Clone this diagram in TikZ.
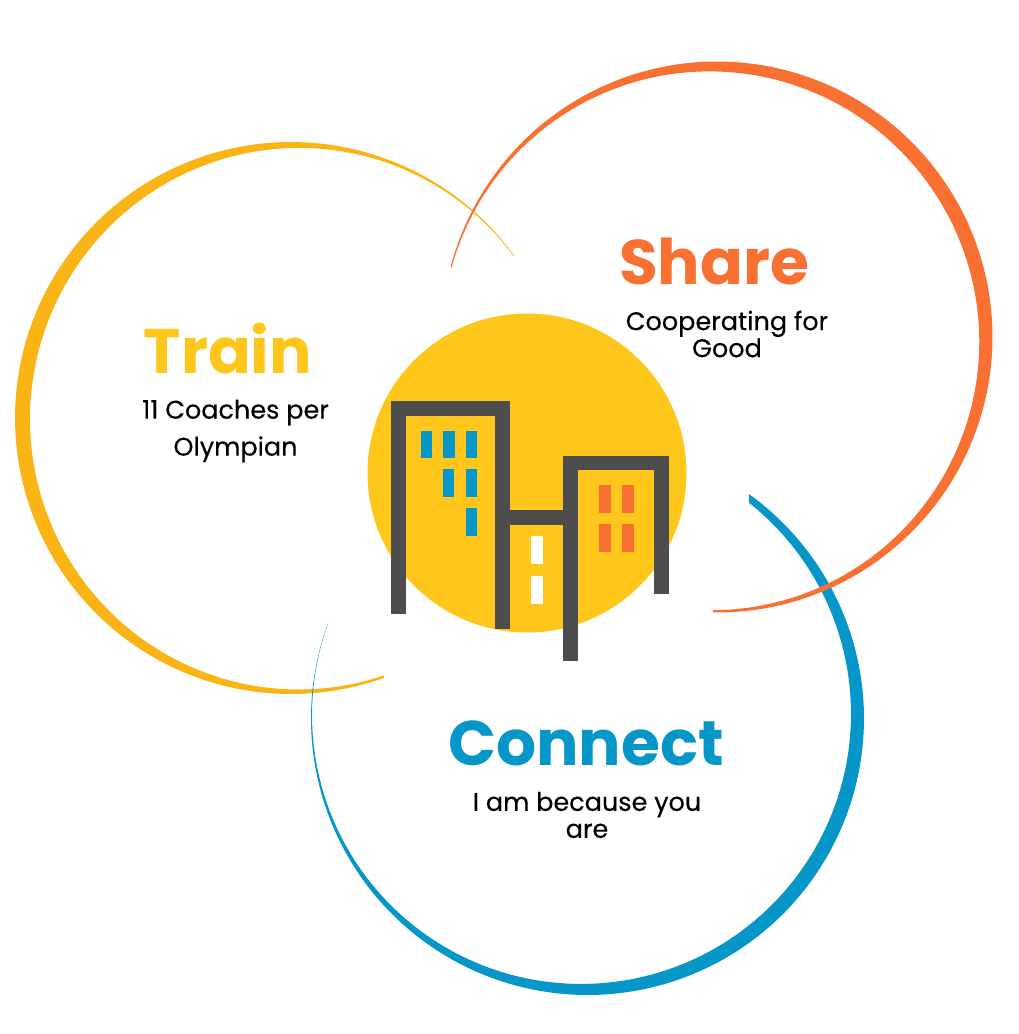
\documentclass[tikz,border=0pt]{standalone}
\usepackage{xcolor}
\usepackage{fontspec}
\setmainfont{Poppins}
\newfontfamily\subfont{Poppins}[FakeBold=0.25]
\usepackage{tikz}

\definecolor{sunyellow}{HTML}{FFC61B}
\definecolor{trainarc}{HTML}{FBB416}
\definecolor{sharered}{HTML}{F97033}
\definecolor{connectblue}{HTML}{0696C8}
\definecolor{towergray}{HTML}{4D4D4D}

% colour, cx, cy, radius, from, to, max width, angle of max width, exponent
\newcommand{\taperarc}[9]{%
  \fill[#1] plot[domain=#5:#6,samples=200] ({#2+#4*cos(\x)},{#3-#4*sin(\x)})
    -- plot[domain=#6:#5,samples=200] ({#2+(#4-#7*pow((1+cos(\x-(#8)))/2,#9))*cos(\x)},{#3-(#4-#7*pow((1+cos(\x-(#8)))/2,#9))*sin(\x)})
    -- cycle;}

\tikzset{
  headline/.style={anchor=base,font=\fontsize{#1}{#1}\selectfont\bfseries},
  subline/.style={align=center,text=black,inner sep=0pt,font=\subfont\fontsize{25.5}{#1}\selectfont},
  tower/.style={draw=towergray,line width=14.7pt,line cap=butt,line join=miter}
}

\begin{document}
\begin{tikzpicture}[x=1pt,y=-1pt]
      \useasboundingbox (0,0) rectangle (1018,1034);

      \taperarc{trainarc}{291}{418}{276}{36}{289.8}{15}{175}{1.5}
      \begin{scope}
        \clip (749,0)--(1018,0)--(1018,1034)--(0,1034)--(0,530)--(749,530)--cycle;
        \taperarc{connectblue}{587.5}{718.5}{276.5}{56}{-200.3}{14.5}{-35}{1.1}
      \end{scope}
      \taperarc{sharered}{717}{337}{275.5}{165.3}{-90.8}{14.5}{30}{1.3}

      \fill[sunyellow] (527,473) circle [radius=159.5];

      \draw[tower] (398.3,613.7)--(398.3,408.2)--(502.7,408.2)--(502.7,629);
      \draw[tower] (502.7,517.7)--(570.5,517.7);
      \draw[tower] (570.5,661.3)--(570.5,463)--(661.7,463)--(661.7,594.3);

      \foreach \wx/\wy in {420.7/430.7,443/430.7,465.7/430.7,442.6/469.3,465.7/469.3,465.7/508.3}
        \fill[connectblue] (\wx,\wy) rectangle ++(11.7,27.7);
      \foreach \wx/\wy in {599.3/485,622/485,599.3/524,622/524}
        \fill[sharered] (\wx,\wy) rectangle ++(11.7,27.7);
      \foreach \wx/\wy in {531/536.3,531/576}
        \fill[white] (\wx,\wy) rectangle ++(11.7,27.7);

      \node[headline=63,text=sunyellow] (train) at (228,373) {Train};
      \node[subline=37] (traintext) at (235.5,431) {11 Coaches per\\Olympian};

      \node[headline=63,text=sharered] (share) at (714,284) {Share};
      \node[subline=27] (sharetext) at (727,334) {Cooperating for\\Good};

      \node[headline=63,text=connectblue] (connect) at (586,765) {Connect};
      \node[subline=27] (connecttext) at (587,815) {I am because you\\are};
    \end{tikzpicture}
\end{document}
